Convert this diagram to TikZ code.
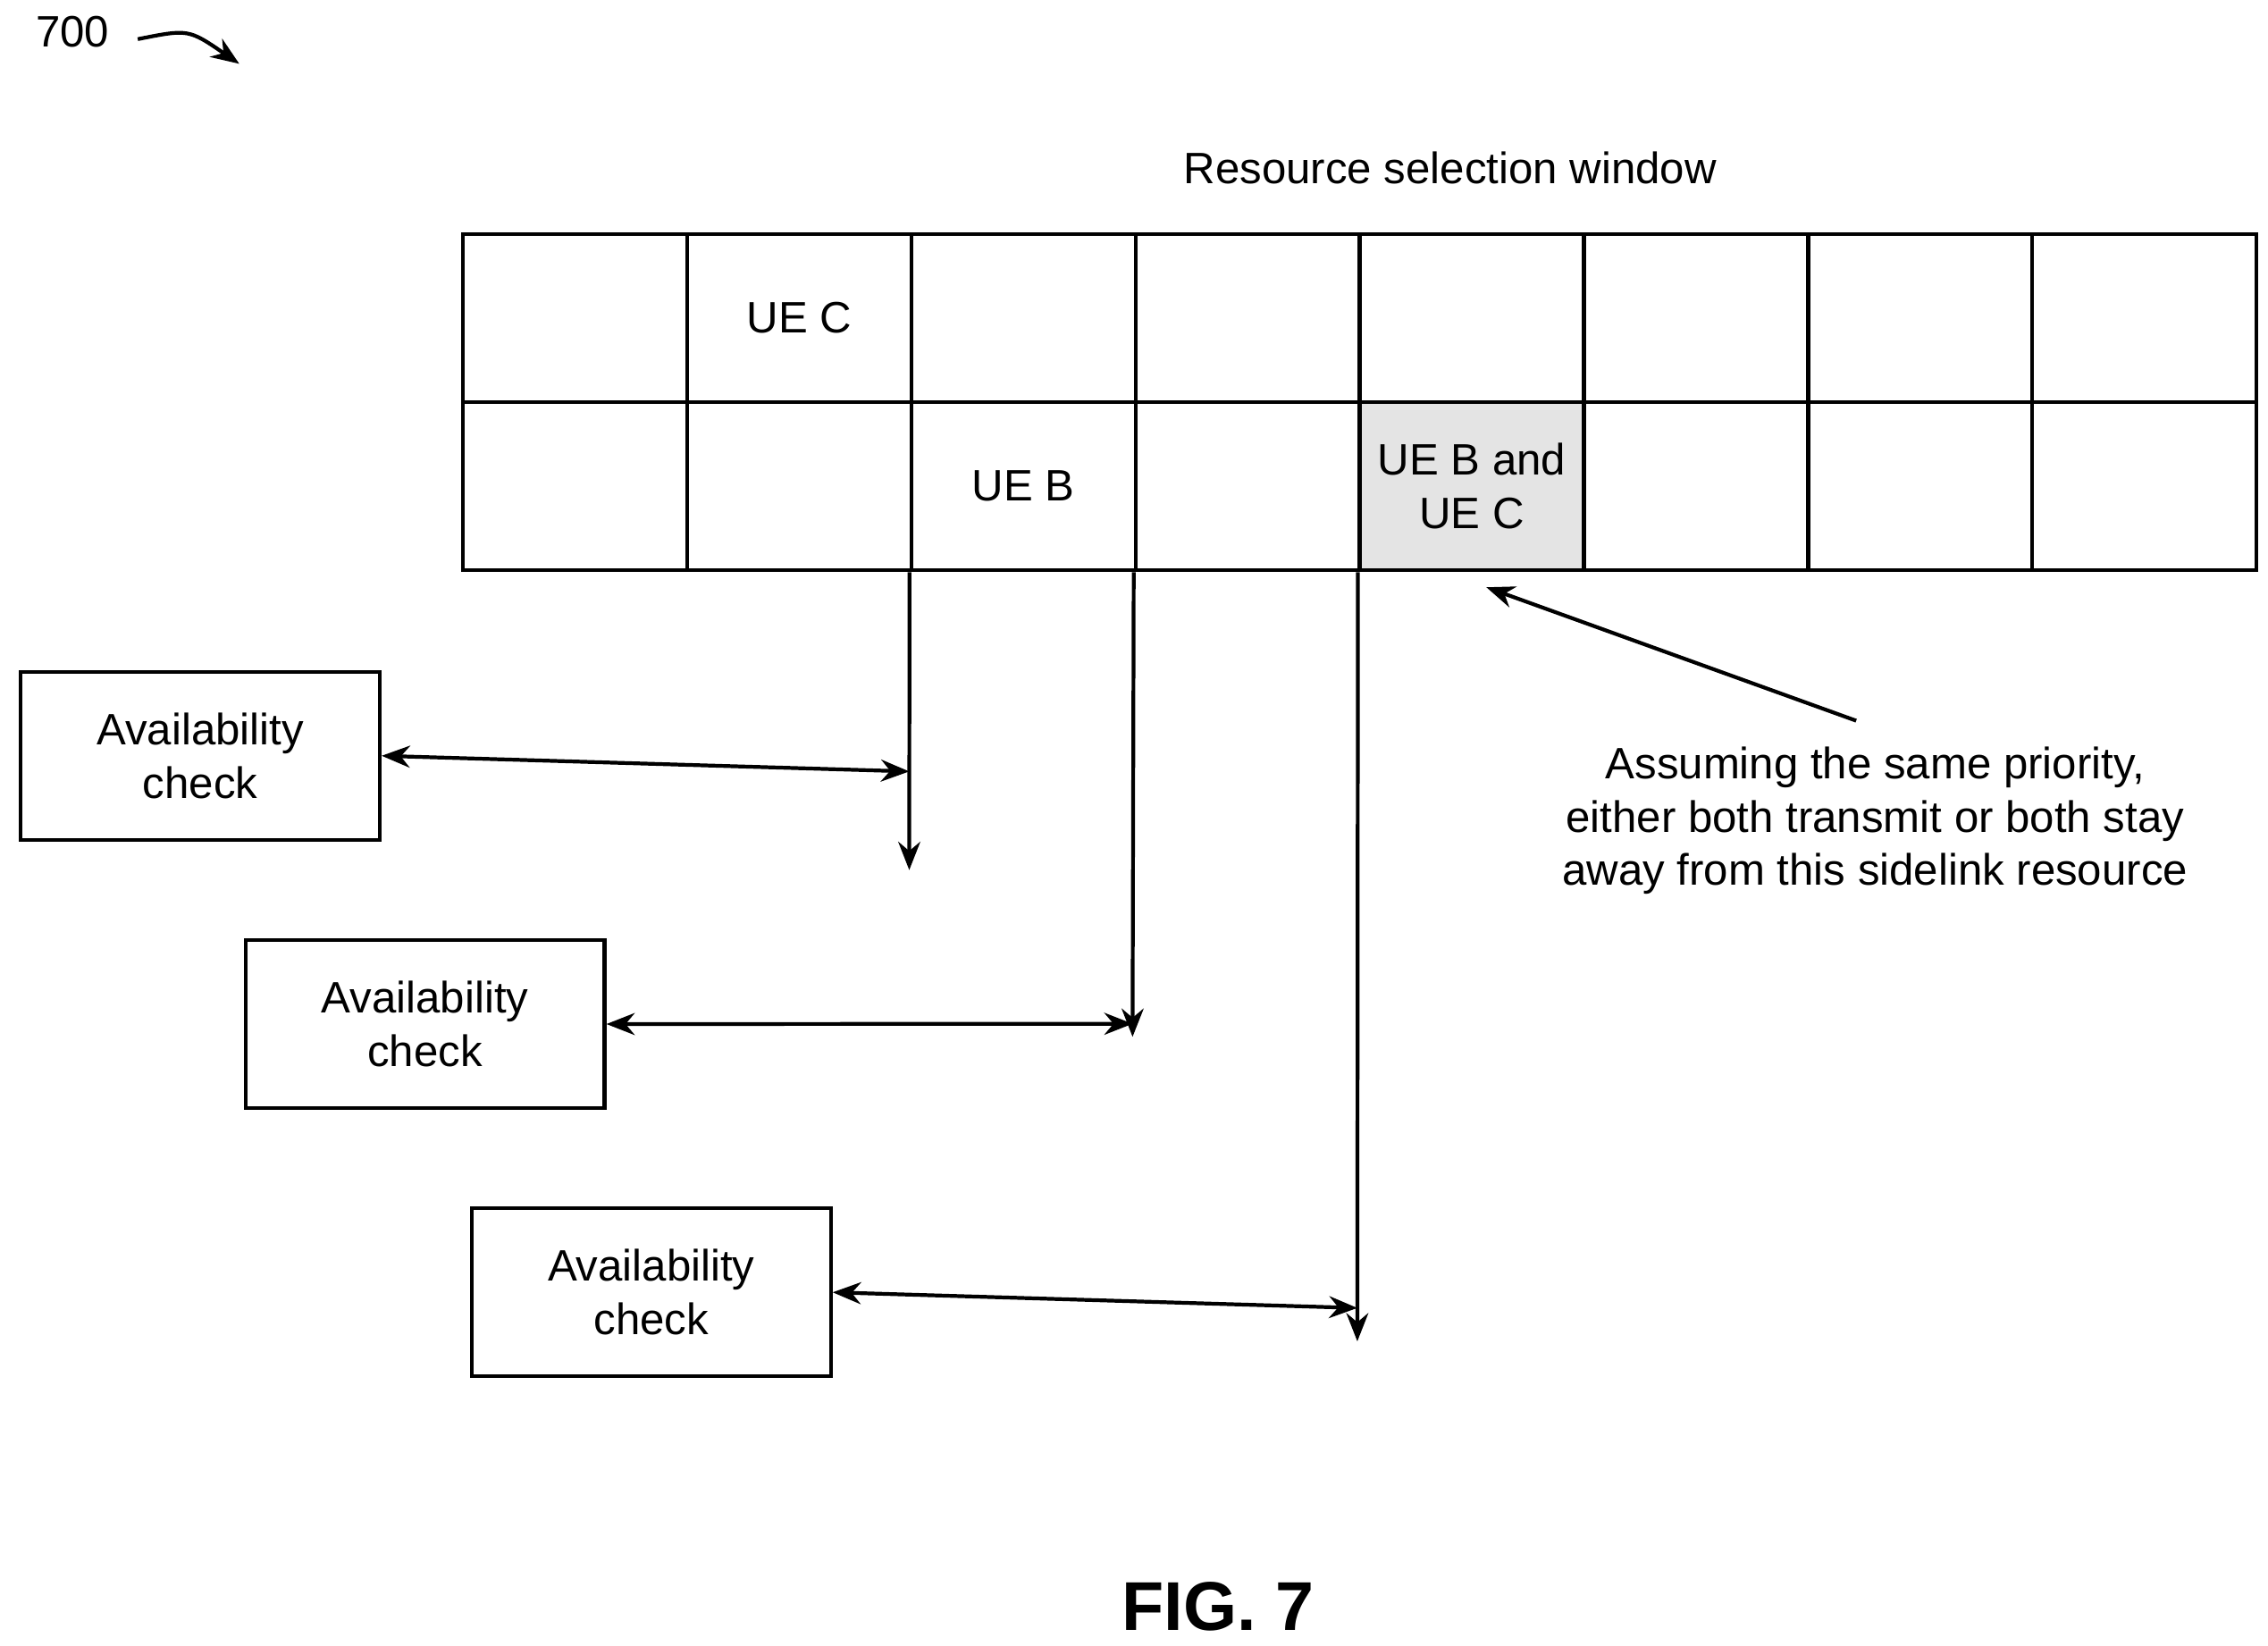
\documentclass[tikz,border=0pt]{standalone}
\usepackage{fontspec}
\setmainfont{Liberation Sans}
\usetikzlibrary{arrows.meta,calc,positioning}
\definecolor{sharedColor}{RGB}{228,228,228}
\tikzset{cell/.style={draw, line width=1.2pt, minimum width=2.509cm, minimum height=1.883cm, inner sep=0pt, align=center, font=\fontsize{14}{17}\selectfont}}
\tikzset{check/.style={draw, line width=1.2pt, minimum width=4.02cm, minimum height=1.88cm, align=center, font=\fontsize{14}{17}\selectfont}}
\tikzstyle{arrow} = [-{Stealth[length=9pt,width=7pt]}, line width=1.2pt]
\tikzstyle{darrow} = [{Stealth[length=9pt,width=7pt]}-{Stealth[length=9pt,width=7pt]}, line width=1.2pt]

\begin{document}
\begin{tikzpicture}[x=0.01623cm, y=-0.01623cm]
	\useasboundingbox (0,0) rectangle (1564,1135);
		% Grid of resources
		\foreach \c in {0,...,7} {
			\node (top\c) [cell, anchor=north west] at (318+154.6*\c,160) {};
			\node (bot\c) [cell, anchor=north west] at (318+154.6*\c,276) {};
		}
		\node [cell, draw=none] at (top1) {UE C};
		\node [cell, draw=none] at (bot2) {UE B};
		\node (shared) [cell, fill=sharedColor, anchor=north west] at (318+154.6*4,276) {UE B and\\UE C};
		\node (title) [font=\fontsize{14}{17}\selectfont] at (1000,116) {Resource selection window};

		% Checks
		\node (checkA) [check, anchor=north west] at (13,462) {Availability\\check};
		\node (checkB) [check, anchor=north west] at (168,647) {Availability\\check};
		\node (checkC) [check, anchor=north west] at (324,832) {Availability\\check};

		\coordinate (endA) at (627,600);
		\coordinate (endB) at (781,715);
		\coordinate (endC) at (936,925);
		\coordinate (hitA) at (627,532);
		\coordinate (hitB) at (781,706);
		\coordinate (hitC) at (936,902);

		% Connectors
		\draw [arrow] (bot2.south west) -- (endA);
		\draw [arrow] (bot3.south west) -- (endB);
		\draw [arrow] (bot4.south west) -- (endC);
		\draw [darrow] (checkA.east) -- (hitA);
		\draw [darrow] (checkB.east) -- (hitB);
		\draw [darrow] (checkC.east) -- (hitC);

		% Note
		\node (note) [align=center, font=\fontsize{14}{17}\selectfont] at (1293,566) {Assuming the same priority,\\either both transmit or both stay\\away from this sidelink resource};
		\coordinate (noteTip) at (1280,497);
		\draw [arrow] (noteTip) -- (1025,405);

		% Labels
		\node (ref) [font=\fontsize{14}{17}\selectfont] at (50,22) {700};
		\coordinate (refStart) at (95,27);
		\coordinate (refEnd) at (165,44);
		\draw [arrow] (refStart) .. controls (130,20) .. (refEnd);
		\node (fig) [font=\bfseries\fontsize{22}{26}\selectfont] at (840,1108) {FIG. 7};
\end{tikzpicture}
\end{document}
